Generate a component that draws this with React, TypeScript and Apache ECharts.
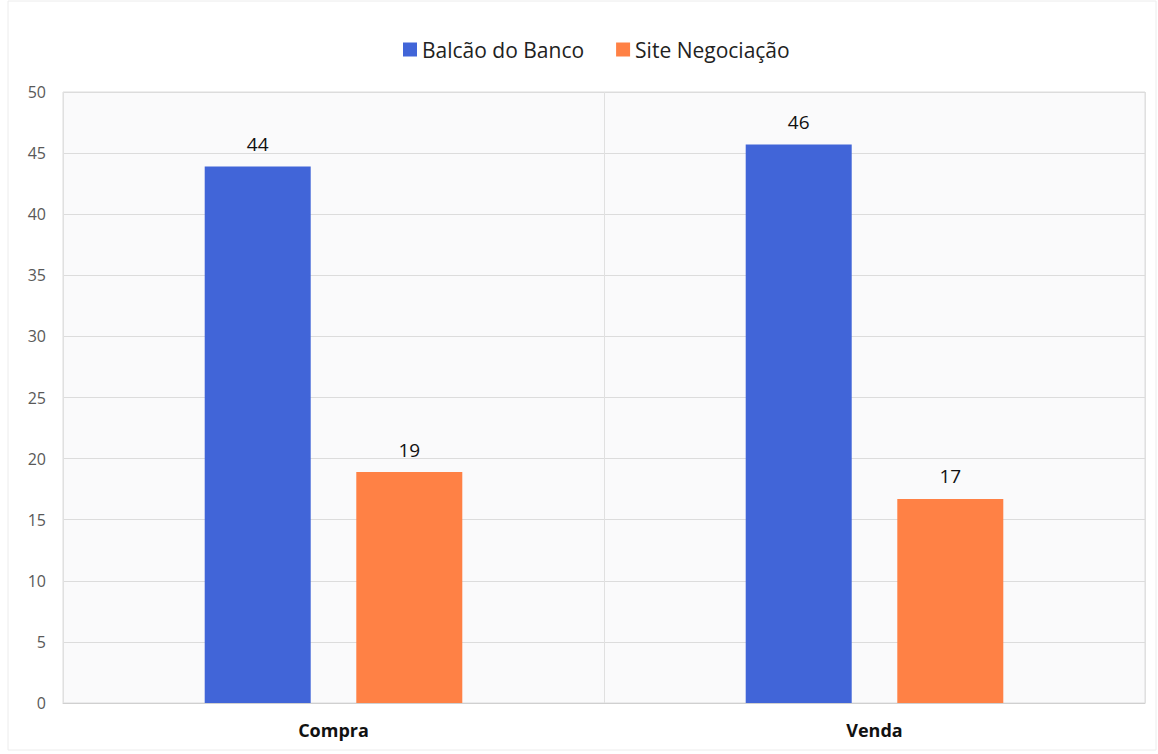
import React, { useEffect, useRef } from "react";
import * as echarts from "echarts";

const categories = ["Compra", "Venda"];
const seriesNames = ["Balcão do Banco", "Site Negociação"];
const balcaoValues = [43.9, 45.7];
const siteValues = [18.9, 16.7];
const yTicks = [0, 5, 10, 15, 20, 25, 30, 35, 40, 45, 50];

const FONT = "'Open Sans', 'Noto Sans', sans-serif";

export default function App() {
  const ref = useRef<HTMLDivElement>(null);
  useEffect(() => {
    if (!ref.current) return;
    const chart = echarts.init(ref.current, undefined, { renderer: "svg" });
    const labelStyle = {
      show: true,
      position: "top",
      distance: 13,
      color: "#111",
      fontSize: 19,
      fontFamily: FONT,
      formatter: (p: any) => String(Math.round(p.value)),
    };
    chart.setOption({
      animation: false,
      backgroundColor: "#fff",
      textStyle: { fontFamily: FONT },
      legend: {
        top: 34,
        left: 398,
        icon: "rect",
        itemWidth: 14,
        itemHeight: 14,
        itemGap: 32,
        textStyle: { fontSize: 21, color: "#222", fontFamily: FONT },
        data: seriesNames,
      },
      grid: {
        left: 63,
        right: 13,
        top: 92,
        bottom: 51,
        show: true,
        backgroundColor: "#fafafb",
        borderColor: "#dcdcdc",
        borderWidth: 1,
      },
      xAxis: {
        type: "category",
        data: categories,
        axisLine: { show: true, lineStyle: { color: "#d0d0d0" } },
        axisTick: { show: false },
        splitLine: { show: true, lineStyle: { color: "#e0e0e0" } },
        axisLabel: {
          margin: 18,
          fontSize: 18,
          fontWeight: "bold",
          color: "#111",
          fontFamily: FONT,
        },
      },
      yAxis: {
        type: "value",
        min: yTicks[0],
        max: yTicks[yTicks.length - 1],
        interval: 5,
        axisLine: { show: false },
        axisTick: { show: false },
        splitLine: { show: true, lineStyle: { color: "#dcdcdc" } },
        axisLabel: { margin: 17, fontSize: 16, color: "#595959", fontFamily: FONT },
      },
      series: [
        {
          name: seriesNames[0],
          type: "bar",
          data: balcaoValues,
          barWidth: 106,
          barGap: "43%",
          itemStyle: { color: "#4165d8" },
          label: labelStyle,
        },
        {
          name: seriesNames[1],
          type: "bar",
          data: siteValues,
          barWidth: 106,
          itemStyle: { color: "#ff8145" },
          label: labelStyle,
        },
      ],
      graphic: [
        {
          type: "rect",
          shape: { x: 8, y: 1, width: 1148, height: 749 },
          style: { fill: "none", stroke: "#ececec", lineWidth: 1 },
          silent: true,
        },
      ],
    });
    return () => chart.dispose();
  }, []);
  return (
    <div
      ref={ref}
      style={{ position: "absolute", left: 0, top: 0, width: 1158, height: 754 }}
    />
  );
}
